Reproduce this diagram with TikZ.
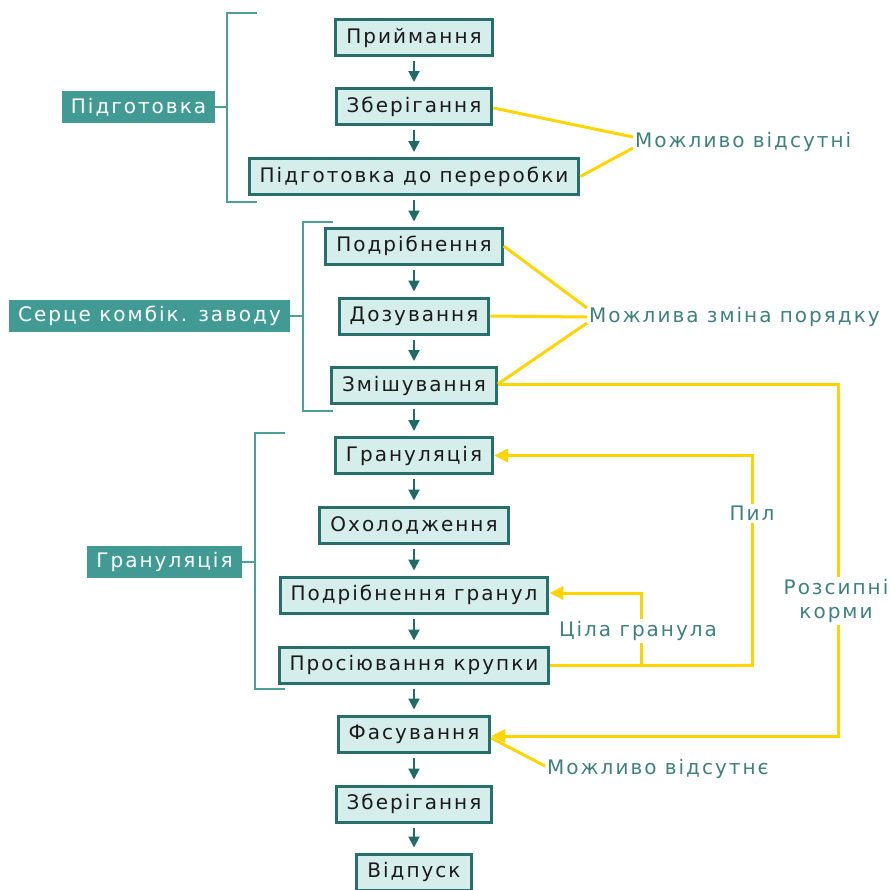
\documentclass[tikz,border=0pt]{standalone}
\usepackage{fontspec}
\setmainfont{DejaVu Sans}[LetterSpace=10]
\usetikzlibrary{arrows.meta}
\definecolor{boxfill}{HTML}{D5EEEC}
\definecolor{boxdraw}{HTML}{276F6B}
\definecolor{flowc}{HTML}{1E6B68}
\definecolor{labfill}{HTML}{429A95}
\definecolor{brackc}{HTML}{4D9F9A}
\definecolor{yel}{HTML}{FFD400}
\definecolor{notec}{HTML}{3F7F7C}
\definecolor{boxtext}{HTML}{1A1A1A}
\tikzset{
  basefont/.style={font=\fontsize{20}{24}\selectfont},
  stepbox/.style={basefont, draw=boxdraw, line width=3pt, fill=boxfill,
    text=boxtext, minimum height=36pt, inner xsep=10.5pt, inner ysep=0pt},
  grplabel/.style={basefont, fill=labfill, text=white, minimum height=32pt,
    inner xsep=9pt, inner ysep=0pt},
  notetext/.style={basefont, text=notec, inner sep=2pt, align=center},
  flow/.style={draw=flowc, line width=2pt, -{Triangle[length=11pt,width=11pt]},
    shorten <=4pt, shorten >=5pt},
  brack/.style={draw=brackc, line width=2.8pt},
  yline/.style={draw=yel, line width=3pt},
  yarrow/.style={yline, -{Triangle[length=14pt,width=13pt]}},
}
\begin{document}
\begin{tikzpicture}[x=1pt, y=-1pt]
\useasboundingbox (0,0) rectangle (890,889);

% main flow
\node[stepbox] (b1)  at (414,37.5)  {Приймання};
\node[stepbox] (b2)  at (414,106.5) {Зберігання};
\node[stepbox] (b3)  at (414,176.5) {Підготовка до переробки};
\node[stepbox] (b4)  at (414,246)   {Подрібнення};
\node[stepbox] (b5)  at (414,316)   {Дозування};
\node[stepbox] (b6)  at (414,385.5) {Змішування};
\node[stepbox] (b7)  at (414,455.5) {Грануляція};
\node[stepbox] (b8)  at (414,525)   {Охолодження};
\node[stepbox] (b9)  at (414,595)   {Подрібнення гранул};
\node[stepbox] (b10) at (414,665)   {Просіювання крупки};
\node[stepbox] (b11) at (414,734)   {Фасування};
\node[stepbox] (b12) at (414,804)   {Зберігання};
\node[stepbox] (b13) at (414,872)   {Відпуск};

\foreach \a/\b in {b1/b2,b2/b3,b3/b4,b4/b5,b5/b6,b6/b7,b7/b8,b8/b9,b9/b10,b10/b11,b11/b12,b12/b13}
  \draw[flow] (\a.south) -- (\b.north);

% group labels and brackets
\node[grplabel] (g1) at (138.5,107) {Підготовка};
\node[grplabel] (g2) at (149.5,316) {Серце комбік. заводу};
\node[grplabel] (g3) at (164.5,562) {Грануляція};

\coordinate (k1t) at (227,13);  \coordinate (k1b) at (227,202);
\coordinate (k2t) at (303,222); \coordinate (k2b) at (303,411);
\coordinate (k3t) at (255,433); \coordinate (k3b) at (255,689);

\draw[brack] ([xshift=30pt]k1t) -- (k1t) -- (k1b) -- ([xshift=30pt]k1b);
\draw[brack] (g1.east) -- (g1.east -| k1t);
\draw[brack] ([xshift=30pt]k2t) -- (k2t) -- (k2b) -- ([xshift=30pt]k2b);
\draw[brack] (g2.east) -- (g2.east -| k2t);
\draw[brack] ([xshift=30pt]k3t) -- (k3t) -- (k3b) -- ([xshift=30pt]k3b);
\draw[brack] (g3.east) -- (g3.east -| k3t);

% notes
\node[notetext, anchor=west] (n1) at (633,142) {Можливо відсутні};
\node[notetext, anchor=west] (n2) at (587,317) {Можлива зміна порядку};
\node[notetext] (pil) at (752,513) {Пил};
\node[notetext] (cg) at (638,631) {Ціла гранула};
\node[notetext] (rk) at (836,601) {Розсипні\\[0pt]корми};
\node[notetext, anchor=west] (n3) at (545,769) {Можливо відсутнє};

% yellow annotation lines
\draw[yline] ([yshift=-1.5pt]b2.east) -- ([yshift=5pt]n1.west);
\draw[yline] (b3.east) -- ([yshift=-6pt]n1.west);
\draw[yline] (b4.east) -- ([yshift=9pt]n2.west);
\draw[yline] (b5.east) -- (n2.west);
\draw[yline] ([yshift=1.5pt]b6.east) -- ([yshift=-6pt]n2.west);

\draw[yline] ([yshift=1.5pt]b6.east) -| ([xshift=2pt]rk.north);
\draw[yarrow] ([xshift=2pt]rk.south) |- ([yshift=-2pt]b11.east);

\draw[yline] (b10.east) -| (pil.south);
\draw[yarrow] (pil.north) |- (b7.east);

\draw[yline] ([xshift=3pt]cg.south) -- ([xshift=3pt]cg.south |- b10.east);
\draw[yarrow] ([xshift=3pt]cg.north) |- ([yshift=2pt]b9.east);

\draw[yline] ([yshift=-4pt]b11.east) -- ([yshift=3pt]n3.west);
\end{tikzpicture}
\end{document}
